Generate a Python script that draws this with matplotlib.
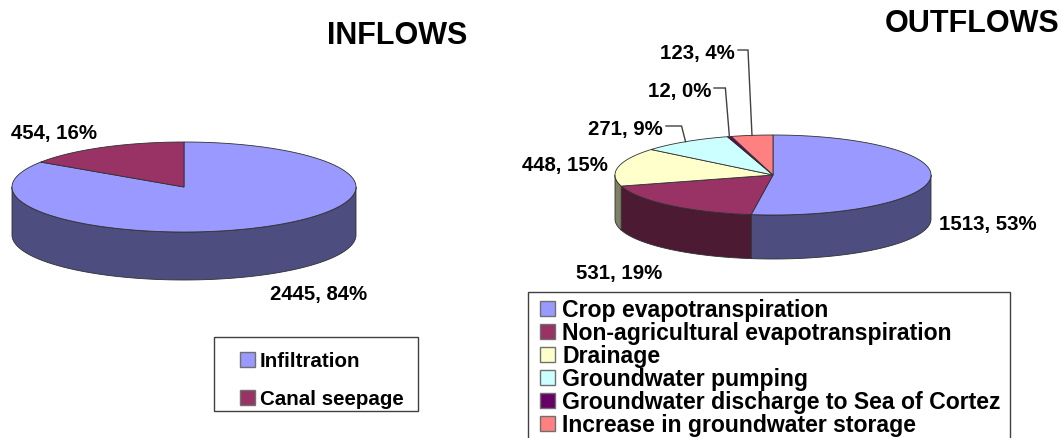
import numpy as np
import matplotlib
matplotlib.use("Agg")
import matplotlib.pyplot as plt
from matplotlib.patches import Polygon, Rectangle

# ---------------- data ----------------
in_labels = ["Infiltration", "Canal seepage"]
in_values = [2445, 454]
in_pcts = [84, 16]

out_labels = ["Crop evapotranspiration", "Non-agricultural evapotranspiration",
              "Drainage", "Groundwater pumping",
              "Groundwater discharge to Sea of Cortez",
              "Increase in groundwater storage"]
out_values = [1513, 531, 448, 271, 12, 123]
out_pcts = [53, 19, 15, 9, 0, 4]

in_colors = ["#9999FF", "#993366"]
out_colors = ["#9999FF", "#993366", "#FFFFCC", "#CCFFFF", "#660066", "#FF8080"]

FONT = "Liberation Sans"
W, H = 1064, 439
fig = plt.figure(figsize=(W / 100, H / 100), dpi=100)
ax = fig.add_axes([0, 0, 1, 1])
ax.set_xlim(0, W)
ax.set_ylim(H, 0)
ax.axis("off")

EDGE = "#303030"


def shade(c, f=0.5):
    r, g, b = matplotlib.colors.to_rgb(c)
    return (r * f, g * f, b * f)


def pie3d(values, colors, cx, cy, a, b, depth, start=90.0):
    total = float(sum(values))
    cum = np.concatenate([[0], np.cumsum(values)]) / total
    th0 = start - 360 * cum[:-1]   # wedge start (larger angle)
    th1 = start - 360 * cum[1:]    # wedge end (smaller angle)
    # sides (front half, sin<0)
    for i in range(len(values)):
        lo, hi = th1[i], th0[i]
        for k in range(-2, 2):
            s0, s1 = 180 + 360 * k, 360 + 360 * k
            l, h = max(lo, s0), min(hi, s1)
            if h - l <= 0:
                continue
            t = np.radians(np.linspace(l, h, 120))
            xs = cx + a * np.cos(t)
            ys = cy - b * np.sin(t)
            pts = np.column_stack([np.concatenate([xs, xs[::-1]]),
                                   np.concatenate([ys, ys[::-1] + depth])])
            ax.add_patch(Polygon(pts, closed=True, facecolor=shade(colors[i]),
                                 edgecolor=EDGE, lw=0.6, zorder=1))
    # tops
    for i in range(len(values)):
        t = np.radians(np.linspace(th0[i], th1[i], max(4, int((th0[i] - th1[i]) * 2))))
        xs = np.concatenate([[cx], cx + a * np.cos(t)])
        ys = np.concatenate([[cy], cy - b * np.sin(t)])
        ax.add_patch(Polygon(np.column_stack([xs, ys]), closed=True,
                             facecolor=colors[i], edgecolor=EDGE, lw=0.6, zorder=2))
    mids = np.radians((th0 + th1) / 2)
    return cx + a * np.cos(mids), cy - b * np.sin(mids)


LBL = 14.7


def text_c(x, y, s, size, ha="center"):
    # y is the visual middle of capitals
    ax.text(x, y + size * 100 / 72 * 0.716 / 2, s, ha=ha, va="baseline",
            fontsize=size, fontweight="bold", family=FONT, color="black", zorder=5)


# ---------------- INFLOWS ----------------
pie3d(in_values, in_colors, cx=184, cy=188, a=172, b=45, depth=48)
in_lbl_pos = [(319, 293), (54, 132)]
for (x, y), v, p in zip(in_lbl_pos, in_values, in_pcts):
    text_c(x, y, f"{v}, {p}%", LBL)
text_c(397, 33, "INFLOWS", 22)

# ---------------- OUTFLOWS ----------------
mx, my = pie3d(out_values, out_colors, cx=773, cy=176, a=158, b=40, depth=44)
out_lbl_pos = [(988, 223, "center"), (619, 272, "center"), (565, 164, "center"),
               (663, 128, "right"), (711, 90, "right"), (735, 52, "right")]
for i, ((x, y, ha), v, p) in enumerate(zip(out_lbl_pos, out_values, out_pcts)):
    text_c(x, y, f"{v}, {p}%", LBL, ha=ha)
    if ha == "right":
        ex = mx[i] - 4
        ax.plot([x + 3, ex, mx[i]], [y - 1, y - 1, my[i]], color="#404040",
                lw=1.0, zorder=4, solid_joinstyle="miter")
text_c(972, 21, "OUTFLOWS", 22)

# ---------------- legends ----------------
def legend_box(x0, y0, x1, y1, labels, colors, mx0, tx, yc0, dy, size):
    ax.add_patch(Rectangle((x0, y0), x1 - x0, y1 - y0, facecolor="white",
                           edgecolor="#404040", lw=1.0, zorder=3))
    for i, (lab, col) in enumerate(zip(labels, colors)):
        yc = yc0 + dy * i
        ax.add_patch(Rectangle((mx0, yc - 7), 15, 15, facecolor=col,
                               edgecolor="#707070", lw=1.0, zorder=4))
        text_c(tx, yc, lab, size, ha="left")


legend_box(214, 338, 418, 412, in_labels, in_colors, 240, 260, 360, 38, 14.8)
legend_box(528, 293, 1010, 445, out_labels, out_colors, 540, 562, 309, 23, 16.6)

fig.savefig("out.png", dpi=100, facecolor="white")
